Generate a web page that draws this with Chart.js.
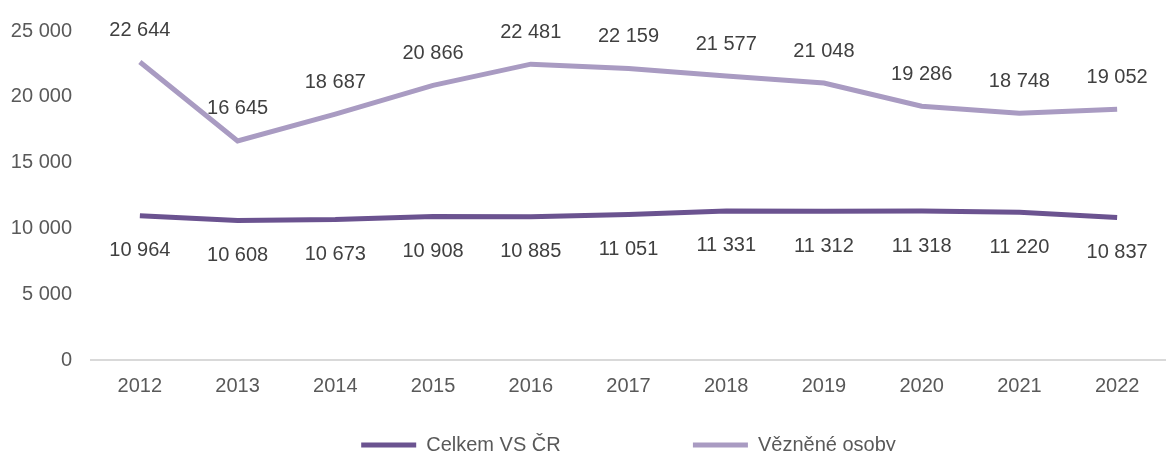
<!DOCTYPE html>
<html>
<head>
<meta charset="utf-8">
<script src="https://cdn.jsdelivr.net/npm/chart.js@4/dist/chart.umd.min.js"></script>
<style>
  html, body { margin: 0; padding: 0; background: #fff; overflow: hidden; }
</style>
</head>
<body>
<canvas id="myChart" width="1166" height="465"></canvas>
<script>
var years = ["2012", "2013", "2014", "2015", "2016", "2017", "2018", "2019", "2020", "2021", "2022"];
var celkem = [10964, 10608, 10673, 10908, 10885, 11051, 11331, 11312, 11318, 11220, 10837];
var vezneni = [22644, 16645, 18687, 20866, 22481, 22159, 21577, 21048, 19286, 18748, 19052];
var yTicks = [0, 5000, 10000, 15000, 20000, 25000];

var FONT = "'Liberation Sans', Arial, sans-serif";

var fmt = function(n) {
    return String(n).replace(/\B(?=(\d{3})+(?!\d))/g, ' ');
};

// value labels above / below each point
var valueLabels = {
    id: 'valueLabels',
    afterDatasetsDraw: function(chart) {
        var ctx = chart.ctx;
        ctx.save();
        ctx.font = '20px ' + FONT;
        ctx.fillStyle = '#404040';
        ctx.textAlign = 'center';
        ctx.textBaseline = 'middle';
        chart.data.datasets.forEach(function(ds, i) {
            var meta = chart.getDatasetMeta(i);
            var offset = ds.labelPos === 'above' ? -32 : 35;
            meta.data.forEach(function(pt, j) {
                ctx.fillText(fmt(ds.data[j]), pt.x, pt.y + offset);
            });
        });
        ctx.restore();
    }
};

var config = {
    type: 'line',
    data: {
        labels: years,
        datasets: [{
            label: "Celkem VS ČR",
            data: celkem,
            borderColor: "#6b5390",
            backgroundColor: "#6b5390",
            borderWidth: 5,
            pointRadius: 0,
            tension: 0,
            labelPos: 'below'
        }, {
            label: "Vězněné osoby",
            data: vezneni,
            borderColor: "#a99bc2",
            backgroundColor: "#a99bc2",
            borderWidth: 5,
            pointRadius: 0,
            tension: 0,
            labelPos: 'above'
        }]
    },
    options: {
        responsive: false,
        animation: false,
        layout: { padding: { top: 18, right: 0, left: 0, bottom: 0 } },
        plugins: {
            tooltip: { enabled: false },
            legend: {
                position: 'bottom',
                fullSize: false,
                labels: {
                    boxWidth: 55,
                    boxHeight: 5,
                    padding: 10,
                    color: '#595959',
                    font: { family: FONT, size: 20 },
                    generateLabels: function(chart) {
                        return chart.data.datasets.map(function(ds, i) {
                            var pad = i === 0 ? '                      ' : '';
                            return {
                                text: ds.label + pad,
                                fillStyle: ds.borderColor,
                                strokeStyle: ds.borderColor,
                                lineWidth: 0,
                                datasetIndex: i,
                                fontColor: '#595959'
                            };
                        });
                    }
                }
            }
        },
        scales: {
            x: {
                offset: true,
                grid: { display: false, drawTicks: false },
                border: { display: true, color: '#d9d9d9', width: 2 },
                afterFit: function(scale) { scale.height = 65; },
                ticks: {
                    color: '#595959',
                    padding: 14,
                    font: { family: FONT, size: 20 }
                }
            },
            y: {
                min: 0,
                max: 25000,
                afterFit: function(scale) { scale.width = 91; },
                afterBuildTicks: function(scale) {
                    scale.ticks = yTicks.map(function(v) { return { value: v }; });
                },
                grid: { display: false, drawTicks: false },
                border: { display: false },
                ticks: {
                    color: '#595959',
                    padding: 19,
                    font: { family: FONT, size: 20 },
                    callback: function(v) { return fmt(v); }
                }
            }
        }
    },
    plugins: [valueLabels]
};

var ctx = document.getElementById("myChart").getContext("2d");
window.myLine = new Chart(ctx, config);
</script>
</body>
</html>
